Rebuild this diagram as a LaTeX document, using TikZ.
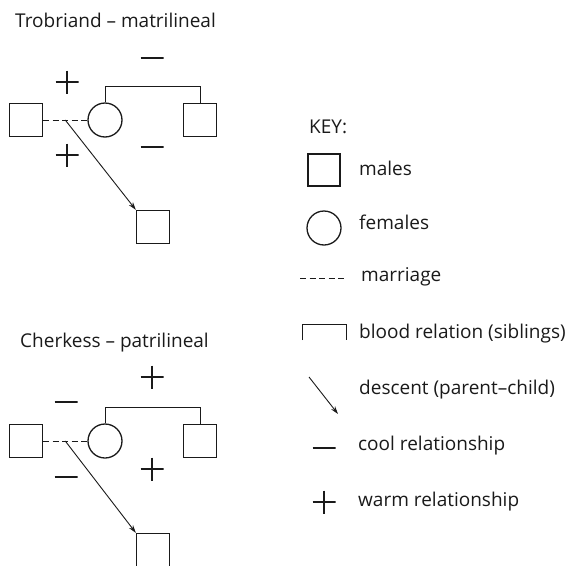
\documentclass[tikz,border=0pt]{standalone}
\usepackage{fontspec}
\setmainfont{Open Sans}
\usepackage{tikz}
\usetikzlibrary{calc,arrows.meta,positioning}
\definecolor{inkc}{HTML}{1A1A1A}
\tikzset{
  male/.style={draw=inkc,line width=1.3pt,minimum size=33pt,inner sep=0pt},
  female/.style={draw=inkc,line width=1.3pt,circle,minimum size=34pt,inner sep=0pt},
  marr/.style={inkc,line width=0.8pt,dash pattern=on 6pt off 3.5pt},
  sib/.style={inkc,line width=0.9pt},
  desc/.style={-{Stealth[length=8pt,width=5pt]},inkc,line width=0.9pt},
  warm/.style={minimum size=23pt,inner sep=0pt,path picture={
    \draw[inkc,line width=2.8pt] (path picture bounding box.west)--(path picture bounding box.east)
      (path picture bounding box.north)--(path picture bounding box.south);}},
  cool/.style={minimum size=23pt,inner sep=0pt,path picture={
    \draw[inkc,line width=2.8pt] (path picture bounding box.west)--(path picture bounding box.east);}},
  lbl/.style={anchor=west,inner sep=0pt,font=\fontsize{19}{21}\selectfont,text=inkc}
}
\begin{document}
\begin{tikzpicture}[x=1pt,y=-1pt]
\useasboundingbox (0,0) rectangle (570,565);
% Trobriand
\node[lbl,anchor=base west] (ttl) at (15,27) {Trobriand -- matrilineal};
\node[male] (th) at (26,120) {};
\node[female] (tw) at (105,120) {};
\node[male] (tb) at (200,120) {};
\node[male] (tc) at (153,227) {};
\coordinate (tm) at ($(th.east)!0.5!(tw.west)$);
\draw[marr] (th) -- (tw);
\draw[sib] (tw.north) -- ++(0,-16) -| (tb.north);
\draw[desc] (tm) -- (tc.north west);
\node[warm] (tp1) at (67,82) {};
\node[warm] (tp2) at (67,155) {};
\node[cool] (tn1) at (152,58) {};
\node[cool] (tn2) at (152,147) {};
% Cherkess
\node[lbl,anchor=base west] (ctl) at (20,347) {Cherkess -- patrilineal};
\node[male] (ch) at (26,441) {};
\node[female] (cw) at (105,441) {};
\node[male] (cb) at (200,441) {};
\node[male] (cc) at (153,550) {};
\coordinate (cm) at ($(ch.east)!0.5!(cw.west)$);
\draw[marr] (ch) -- (cw);
\draw[sib] (cw.north) -- ++(0,-16) -| (cb.north);
\draw[desc] (cm) -- (cc.north west);
\node[warm] (cp1) at (152,377) {};
\node[warm] (cp2) at (152,469) {};
\node[cool] (cn1) at (66,402) {};
\node[cool] (cn2) at (66,477) {};
% key
\node[lbl] (key) at (309,127) {KEY:};
\node[male,minimum size=32pt] (km) at (324,170) {};
\node[lbl] (kml) at (359,168) {males};
\node[female] (kf) at (324,228) {};
\node[lbl] (kfl) at (359,222) {females};
\coordinate (kd1) at (300,278); \coordinate (kd2) at (347,278);
\draw[marr] (kd1) -- (kd2);
\node[lbl] (kdl) at (361,277) {marriage};
\coordinate (ks1) at (302,340); \coordinate (ks2) at (346,340);
\draw[sib] (ks1) -- ++(0,-16) -| (ks2);
\node[lbl] (ksl) at (359,334) {blood relation (siblings)};
\coordinate (ka1) at (309,377); \coordinate (ka2) at (338,414);
\draw[desc] (ka1) -- (ka2);
\node[lbl] (kal) at (359,390) {descent (parent--child)};
\node[cool] (kn) at (324,448) {};
\node[lbl] (knl) at (358,446) {cool relationship};
\node[warm] (kp) at (324,502) {};
\node[lbl] (kpl) at (358,502) {warm relationship};
\end{tikzpicture}
\end{document}
